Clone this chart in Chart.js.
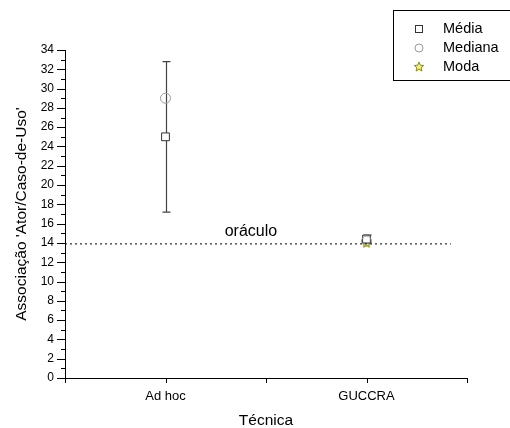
<!DOCTYPE html>
<html>
<head>
<meta charset="utf-8">
<script src="https://cdn.jsdelivr.net/npm/chart.js@4/dist/chart.umd.min.js"></script>
<style>
  html, body { margin: 0; padding: 0; background: #fff; }
  #wrap { width: 510px; height: 428px; position: relative; }
</style>
</head>
<body>
<div id="wrap"><canvas id="canvas" width="510" height="428"></canvas></div>
<script>
// data
var categories = ['Ad hoc', 'GUCCRA'];
var categoryPos = [1, 2];
var media = [25, 14.4];
var mediana = [29, 14.2];
var moda = [null, 14.0];
var errLow = [17.2, 14.0];
var errHigh = [32.8, 14.8];
var oraculo = 13.9;
var oraculoRange = [0.5, 2.42];
var yTicks = [0, 2, 4, 6, 8, 10, 12, 14, 16, 18, 20, 22, 24, 26, 28, 30, 32, 34];

var FONT = "'Liberation Sans', Arial, sans-serif";

function pts(vals) {
    var out = [];
    for (var i = 0; i < vals.length; i++) {
        if (vals[i] !== null) out.push({x: categoryPos[i], y: vals[i]});
    }
    return out;
}

// star marker (chart + legend)
function drawStar(ctx, x, y, r) {
    ctx.beginPath();
    for (var i = 0; i < 10; i++) {
        var rad = (i % 2 === 0) ? r : r * 0.45;
        var a = -Math.PI / 2 + i * Math.PI / 5;
        var px = x + rad * Math.cos(a), py = y + rad * Math.sin(a);
        if (i === 0) ctx.moveTo(px, py); else ctx.lineTo(px, py);
    }
    ctx.closePath();
    ctx.fillStyle = '#f0f080';
    ctx.fill();
    ctx.strokeStyle = '#8a8a10';
    ctx.lineWidth = 1;
    ctx.stroke();
}

var starCanvas = document.createElement('canvas');
starCanvas.width = 12; starCanvas.height = 12;
drawStar(starCanvas.getContext('2d'), 6, 6.3, 5);

var extras = {
    id: 'extras',
    beforeDatasetsDraw: function (chart) {
        var ctx = chart.ctx;
        var xs = chart.scales.x, ys = chart.scales.y;
        // error bars
        ctx.save();
        ctx.strokeStyle = '#444';
        ctx.lineWidth = 1.2;
        for (var i = 0; i < categoryPos.length; i++) {
            var px = Math.round(xs.getPixelForValue(categoryPos[i])) + 0.5;
            var lo = ys.getPixelForValue(errLow[i]);
            var hi = ys.getPixelForValue(errHigh[i]);
            ctx.beginPath();
            ctx.moveTo(px, lo); ctx.lineTo(px, hi);
            ctx.moveTo(px - 4, lo); ctx.lineTo(px + 4, lo);
            ctx.moveTo(px - 4, hi); ctx.lineTo(px + 4, hi);
            ctx.stroke();
        }
        ctx.restore();
    },
    afterDraw: function (chart) {
        var ctx = chart.ctx;
        var xs = chart.scales.x, ys = chart.scales.y;
        var left = xs.left, bottom = ys.bottom;
        ctx.save();
        ctx.strokeStyle = '#000';
        ctx.lineWidth = 1;
        // y ticks: major every 2, minor every 1
        for (var v = ys.min; v <= ys.max; v++) {
            var py = Math.round(ys.getPixelForValue(v)) + 0.5;
            var len = (v % 2 === 0) ? 8 : 4;
            ctx.beginPath();
            ctx.moveTo(left - len, py); ctx.lineTo(left, py);
            ctx.stroke();
        }
        // x ticks
        for (var xv = xs.min; xv <= xs.max + 1e-9; xv += 0.5) {
            var px = Math.round(xs.getPixelForValue(xv)) + 0.5;
            ctx.beginPath();
            ctx.moveTo(px, bottom); ctx.lineTo(px, bottom + 5);
            ctx.stroke();
        }
        // oraculo label
        ctx.fillStyle = '#000';
        ctx.font = '16px ' + FONT;
        ctx.textAlign = 'center';
        ctx.textBaseline = 'alphabetic';
        ctx.fillText('oráculo', xs.getPixelForValue(1.425), ys.getPixelForValue(oraculo) - 8);

        // legend box
        var bx = 393.5, by = 10.5;
        ctx.strokeStyle = '#000';
        ctx.strokeRect(bx, by, 130, 70);
        ctx.textAlign = 'left';
        ctx.textBaseline = 'middle';
        ctx.font = '14.5px ' + FONT;
        var rows = [['Média', 'sq'], ['Mediana', 'ci'], ['Moda', 'st']];
        for (var r = 0; r < rows.length; r++) {
            var cy = 29 + r * 19;
            var mx = 419;
            if (rows[r][1] === 'sq') {
                ctx.strokeStyle = '#333';
                ctx.strokeRect(mx - 3.5, cy - 3.5, 7, 7);
            } else if (rows[r][1] === 'ci') {
                ctx.strokeStyle = '#999';
                ctx.beginPath(); ctx.arc(mx, cy, 4, 0, 2 * Math.PI); ctx.stroke();
            } else {
                drawStar(ctx, mx, cy, 5);
            }
            ctx.fillStyle = '#000';
            ctx.fillText(rows[r][0], 443, cy);
        }
        ctx.restore();
    }
};

var ctx = document.getElementById('canvas').getContext('2d');
var myChart = new Chart(ctx, {
    type: 'scatter',
    data: {
        datasets: [
            {
                type: 'line', label: 'oráculo',
                data: [{x: oraculoRange[0], y: oraculo}, {x: oraculoRange[1], y: oraculo}],
                borderColor: '#000', borderWidth: 1, borderDash: [2, 3],
                pointRadius: 0, fill: false
            },
            {
                label: 'Mediana', data: pts(mediana),
                pointStyle: 'circle', pointRadius: 5,
                borderColor: '#999', backgroundColor: 'rgba(255,255,255,0)', borderWidth: 1
            },
            {
                label: 'Média', data: pts(media),
                pointStyle: 'rect', pointRadius: 5.5,
                borderColor: '#333', backgroundColor: '#fff', borderWidth: 1
            },
            {
                label: 'Moda', data: pts(moda),
                pointStyle: starCanvas
            }
        ]
    },
    options: {
        responsive: false,
        animation: false,
        layout: { padding: { top: 50, right: 43, left: 8, bottom: 0 } },
        plugins: { legend: { display: false }, tooltip: { enabled: false } },
        scales: {
            x: {
                type: 'linear', min: 0.5, max: 2.5,
                grid: { display: false },
                border: { display: true, color: '#000', width: 1 },
                ticks: {
                    stepSize: 0.5, padding: 3, color: '#000', autoSkip: false,
                    maxRotation: 0,
                    font: { family: FONT, size: 13 },
                    callback: function (v) {
                        var i = categoryPos.indexOf(v);
                        return i >= 0 ? categories[i] : '';
                    }
                },
                title: { display: true, text: 'Técnica', color: '#000', font: { family: FONT, size: 15.5 }, padding: { top: 0, bottom: -2 } },
                afterFit: function (s) { s.height = 50; }
            },
            y: {
                min: 0, max: 34,
                grid: { display: false },
                border: { display: true, color: '#000', width: 1 },
                ticks: {
                    stepSize: 2, padding: 3, color: '#000', autoSkip: false,
                    font: { family: FONT, size: 12 },
                    callback: function (v) { return yTicks.indexOf(v) >= 0 ? String(v) : ''; }
                },
                title: { display: true, text: "Associação 'Ator/Caso-de-Uso'", color: '#000', font: { family: FONT, size: 15.5 }, padding: { top: 4, bottom: 0 } },
                afterFit: function (s) { s.width = 57; }
            }
        }
    },
    plugins: [extras]
});
</script>
</body>
</html>
